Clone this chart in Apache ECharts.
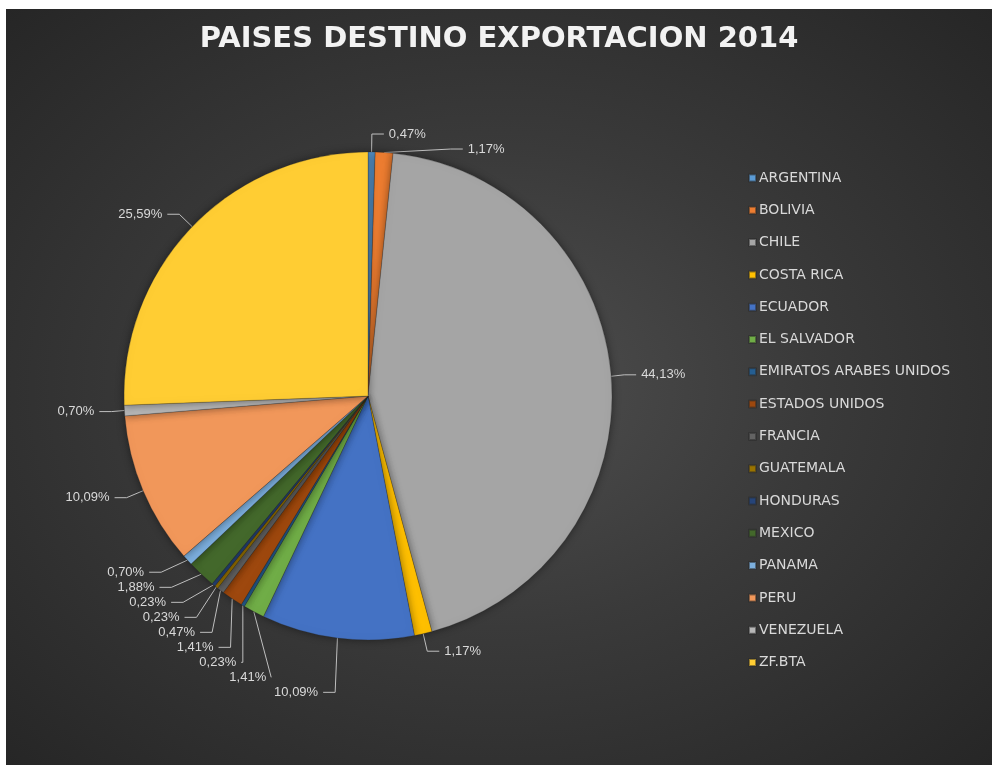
<!DOCTYPE html>
<html>
<head>
<meta charset="utf-8">
<script src="https://cdn.jsdelivr.net/npm/echarts@6/dist/echarts.min.js"></script>
<style>
  html, body { margin: 0; padding: 0; background: #ffffff; }
  .frame {
    position: absolute;
    left: 6px;
    top: 9px;
    width: 986px;
    height: 756px;
    background: radial-gradient(ellipse at 50% 50%, #4e4e4e 0%, #3a3a3a 45%, #262626 100%);
  }
  #chart { width: 100%; height: 100%; }
</style>
</head>
<body>
<div class="frame"><div id="chart"></div></div>
<script>
// paises destino y porcentaje de exportacion 2014
const countries = ['ARGENTINA', 'BOLIVIA', 'CHILE', 'COSTA RICA', 'ECUADOR', 'EL SALVADOR',
  'EMIRATOS ARABES UNIDOS', 'ESTADOS UNIDOS', 'FRANCIA', 'GUATEMALA', 'HONDURAS',
  'MEXICO', 'PANAMA', 'PERU', 'VENEZUELA', 'ZF.BTA'];
const shares = [0.47, 1.17, 44.13, 1.17, 10.09, 1.41, 0.23, 1.41, 0.47, 0.23, 0.23,
  1.88, 0.70, 10.09, 0.70, 25.59];
const palette = ['#5B9BD5', '#ED7D31', '#A5A5A5', '#FFC000', '#4472C4', '#70AD47',
  '#255E91', '#9E480E', '#636363', '#997300', '#264478', '#43682B',
  '#7CAFDD', '#F1975A', '#B7B7B7', '#FFCD33'];

const pieData = countries.map((name, i) => ({ name: name, value: shares[i] }));

const chart = echarts.init(document.getElementById('chart'));
chart.setOption({
  backgroundColor: 'transparent',
  color: palette,
  title: {
    text: 'PAISES DESTINO EXPORTACION 2014',
    left: 'center',
    top: 11,
    textStyle: {
      color: '#f2f2f2',
      fontFamily: 'DejaVu Sans',
      fontWeight: 'bold',
      fontSize: 29
    }
  },
  legend: {
    orient: 'vertical',
    left: 737,
    top: 157,
    icon: 'rect',
    itemWidth: 7,
    itemHeight: 7,
    itemGap: 18.3,
    textStyle: {
      color: '#d9d9d9',
      fontFamily: 'DejaVu Sans',
      fontSize: 14,
      lineHeight: 14,
      padding: [0, 0, 0, -2]
    },
    data: countries
  },
  series: [
    {
      type: 'pie',
      center: [362, 387],
      radius: 244,
      startAngle: 90,
      clockwise: true,
      avoidLabelOverlap: true,
      itemStyle: {
        borderColor: 'rgba(40,40,40,0.5)',
        borderWidth: 0.5,
        shadowBlur: 8,
        shadowColor: 'rgba(0,0,0,0.45)'
      },
      label: {
        show: true,
        position: 'outside',
        color: '#d9d9d9',
        fontFamily: 'Liberation Sans',
        fontSize: 13,
        formatter: p => p.value.toFixed(2).replace('.', ',') + '%'
      },
      labelLine: {
        show: true,
        length: 18,
        length2: 12,
        lineStyle: { color: '#bfbfbf', width: 1 }
      },
      emphasis: { disabled: true },
      data: pieData
    }
  ]
});
</script>
</body>
</html>
